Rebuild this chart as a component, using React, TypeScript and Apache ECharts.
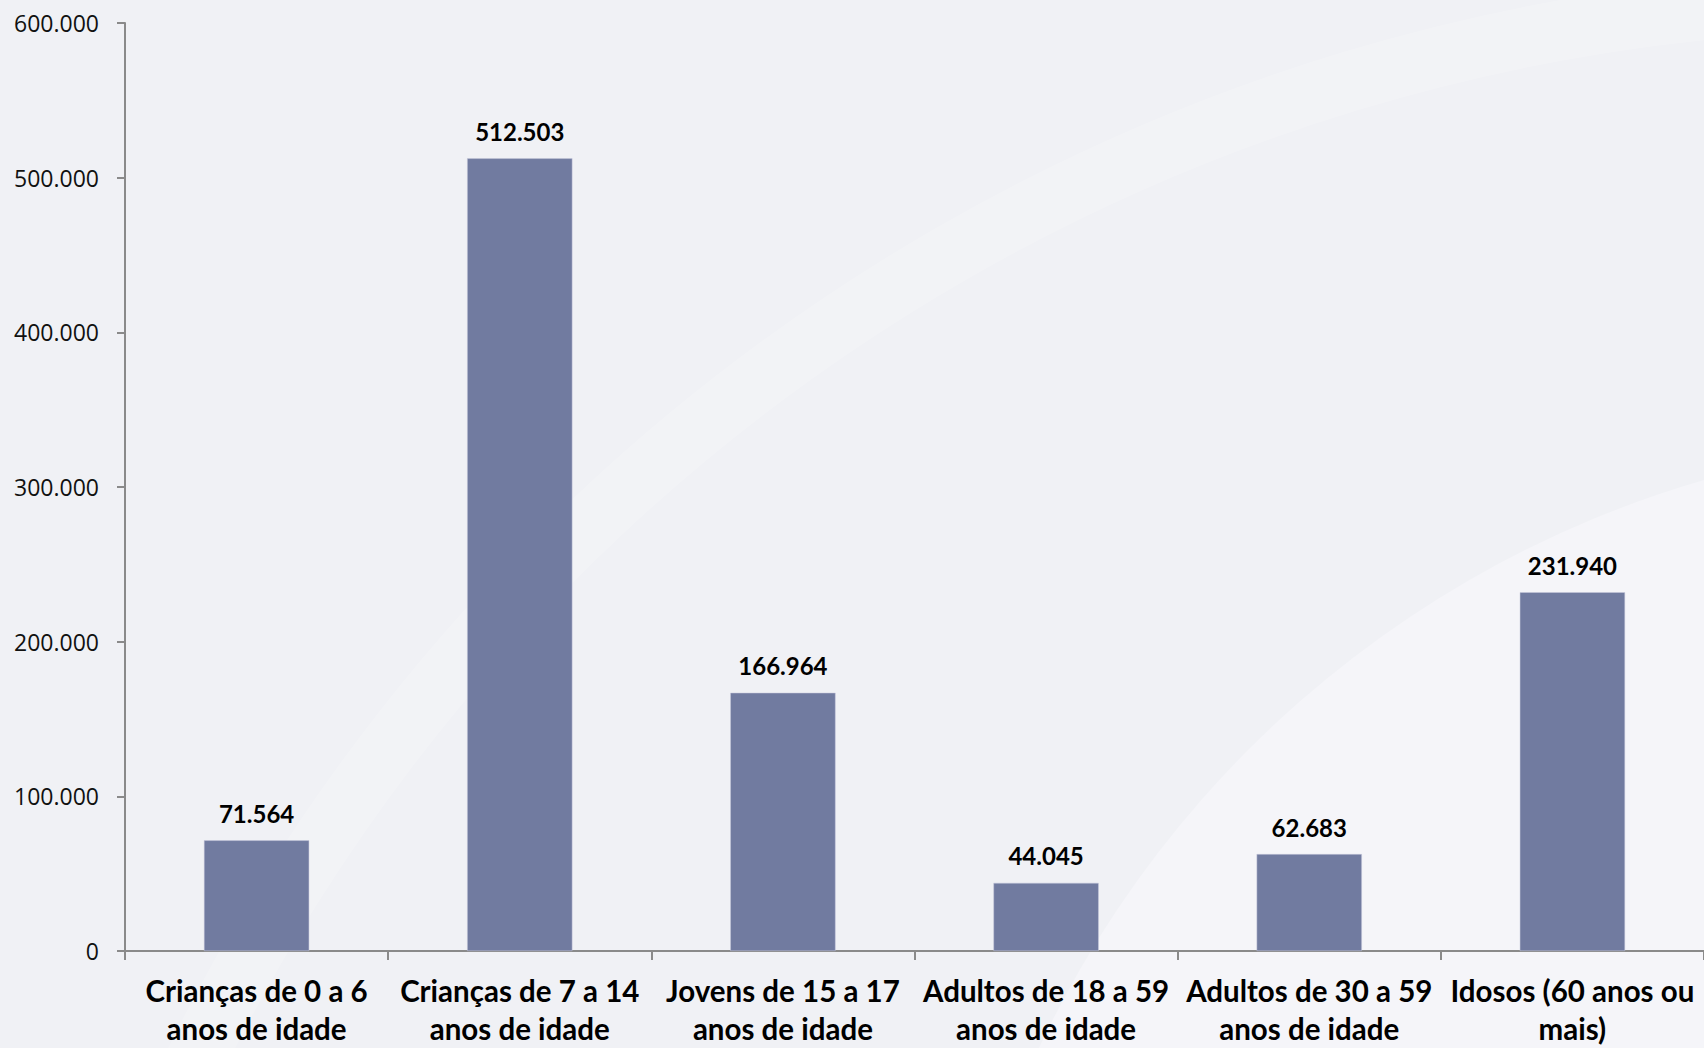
import React, { useEffect, useRef } from "react";
import * as echarts from "echarts";

const categories = [
  "Crianças de 0 a 6\nanos de idade",
  "Crianças de 7 a 14\nanos de idade",
  "Jovens de 15 a 17\nanos de idade",
  "Adultos de 18 a 59\nanos de idade",
  "Adultos de 30 a 59\nanos de idade",
  "Idosos (60 anos ou\nmais)",
];
const values = [71564, 512503, 166964, 44045, 62683, 231940];
const yMin = 0;
const yMax = 600000;
const yInterval = 100000;

const fmt = (v: number) => String(Math.round(v)).replace(/\B(?=(\d{3})+(?!\d))/g, ".");

export default function App() {
  const ref = useRef<HTMLDivElement>(null);
  useEffect(() => {
    if (!ref.current) return;
    const chart = echarts.init(ref.current, undefined, { renderer: "svg" });
    chart.setOption({
      animation: false,
      backgroundColor: "#f0f1f5",
      graphic: [
        {
          type: "circle",
          silent: true,
          z: -10,
          shape: { cx: 2000, cy: 1500, r: 1062 },
          style: { fill: "#f5f5f9" },
        },
        {
          type: "circle",
          silent: true,
          z: -10,
          shape: { cx: 1900, cy: 1900, r: 1900 },
          style: { fill: "none", stroke: "rgba(255,255,255,0.18)", lineWidth: 60 },
        },
      ],
      grid: { left: 125, top: 23, right: 0, bottom: 97, containLabel: false },
      xAxis: {
        type: "category",
        data: categories,
        axisLine: { lineStyle: { color: "#8a8a8a", width: 2 } },
        axisTick: { show: true, length: 9, lineStyle: { color: "#8a8a8a", width: 2 } },
        axisLabel: {
          interval: 0,
          margin: 20,
          fontFamily: "Lato",
          fontWeight: "bold",
          fontSize: 29.5,
          lineHeight: 38,
          color: "#000",
        },
      },
      yAxis: {
        type: "value",
        min: yMin,
        max: yMax,
        interval: yInterval,
        splitLine: { show: false },
        axisLine: { show: true, lineStyle: { color: "#8a8a8a", width: 2 } },
        axisTick: { show: true, length: 8, lineStyle: { color: "#8a8a8a", width: 2 } },
        axisLabel: {
          margin: 26,
          fontFamily: "Open Sans",
          fontSize: 23,
          color: "#111",
          formatter: (v: number) => fmt(v),
        },
      },
      series: [
        {
          type: "bar",
          data: values,
          barWidth: "40%",
          itemStyle: { color: "#717ba0", borderColor: "#c8cbdc", borderWidth: 0.5 },
          label: {
            show: true,
            position: "top",
            distance: 15,
            fontFamily: "Lato",
            fontWeight: "bold",
            fontSize: 24,
            color: "#000",
            formatter: (p: any) => fmt(p.value),
          },
        },
      ],
    });
    return () => chart.dispose();
  }, []);
  return (
    <div
      ref={ref}
      style={{ position: "fixed", left: 0, top: 0, width: 1704, height: 1048 }}
    />
  );
}
